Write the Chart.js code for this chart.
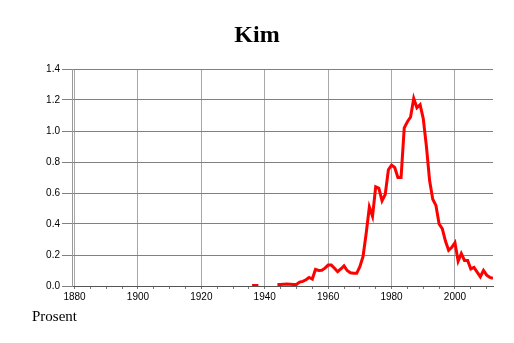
<!DOCTYPE html>
<html>
<head>
<meta charset="utf-8">
<script src="https://cdn.jsdelivr.net/npm/chart.js@4/dist/chart.umd.min.js"></script>
<style>
    body { margin: 0; background: #fff; }
    #wrap { position: relative; width: 514px; height: 343px; }
    #kimChart { position: absolute; left: 0; top: 0; }
    .title {
        position: absolute; left: 0; top: 22px; width: 514px; text-align: center;
        font: bold 24px/24px 'Liberation Serif', serif; color: #000;
    }
    .unit {
        position: absolute; left: 32px; top: 309px;
        font: 15px/15px 'Liberation Serif', serif; color: #000;
    }
</style>
</head>
<body>
<div id="wrap">
    <canvas id="kimChart" width="514" height="343"></canvas>
    <div class="title">Kim</div>
    <div class="unit">Prosent</div>
</div>
<script>
// ===== DATA =====
const firstYear = 1936;
// percent per year, null = no data
const percentValues = [
    0.003, 0.003, 0.003, null, null, null, null, null,
    0.010, 0.010, 0.012, 0.013, 0.012, 0.010, 0.010, 0.025, 0.030, 0.040,
    0.055, 0.045, 0.107, 0.100, 0.102, 0.115, 0.135, 0.135, 0.115, 0.092,
    0.110, 0.130, 0.100, 0.085, 0.082, 0.082, 0.125, 0.19, 0.34, 0.51,
    0.45, 0.64, 0.63, 0.55, 0.59, 0.75, 0.78, 0.765, 0.70, 0.70,
    1.02, 1.06, 1.09, 1.21, 1.15, 1.17, 1.08, 0.90, 0.68, 0.56,
    0.52, 0.40, 0.37, 0.29, 0.23, 0.25, 0.28, 0.16, 0.21, 0.165,
    0.165, 0.11, 0.12, 0.09, 0.06, 0.10, 0.07, 0.056, 0.05
];
const xTickYears = [1880, 1885, 1890, 1895, 1900, 1905, 1910, 1915, 1920, 1925, 1930, 1935,
    1940, 1945, 1950, 1955, 1960, 1965, 1970, 1975, 1980, 1985, 1990, 1995, 2000, 2005, 2010];
const yTicks = [0, 0.2, 0.4, 0.6, 0.8, 1.0, 1.2, 1.4];

const points = percentValues.map((v, i) => ({ x: firstYear + i, y: v }));

const tickFont = { family: 'Liberation Sans', size: 10 };

new Chart(document.getElementById('kimChart'), {
    type: 'line',
    data: {
        datasets: [{
            data: points,
            borderColor: '#ff0000',
            borderWidth: 3,
            pointRadius: 0,
            tension: 0,
            spanGaps: false
        }]
    },
    options: {
        responsive: false,
        animation: false,
        layout: { padding: { left: 0, right: 21, top: 69, bottom: 37 } },
        plugins: {
            legend: { display: false },
            tooltip: { enabled: false }
        },
        scales: {
            x: {
                type: 'linear',
                min: 1879.2,
                max: 2012,
                afterBuildTicks: scale => {
                    scale.ticks = xTickYears.map(v => ({ value: v }));
                },
                afterFit: scale => { scale.height = 20; },
                ticks: {
                    autoSkip: false,
                    maxRotation: 0,
                    padding: 2,
                    color: '#000',
                    font: tickFont,
                    callback: v => (v % 20 === 0 ? String(v) : '')
                },
                grid: {
                    color: ctx => (ctx.tick && ctx.tick.value % 20 === 0 ? '#a8a8a8' : 'rgba(0,0,0,0)'),
                    tickColor: '#777',
                    tickLength: 3
                },
                border: { color: '#555' }
            },
            y: {
                min: 0,
                max: 1.4,
                afterBuildTicks: scale => {
                    scale.ticks = yTicks.map(v => ({ value: v }));
                },
                afterFit: scale => { scale.width = 72; },
                ticks: {
                    padding: 2,
                    color: '#000',
                    font: tickFont,
                    callback: v => v.toFixed(1)
                },
                grid: {
                    color: '#808080',
                    tickColor: '#808080',
                    tickLength: 10
                },
                border: { color: '#999' }
            }
        }
    }
});
</script>
</body>
</html>
